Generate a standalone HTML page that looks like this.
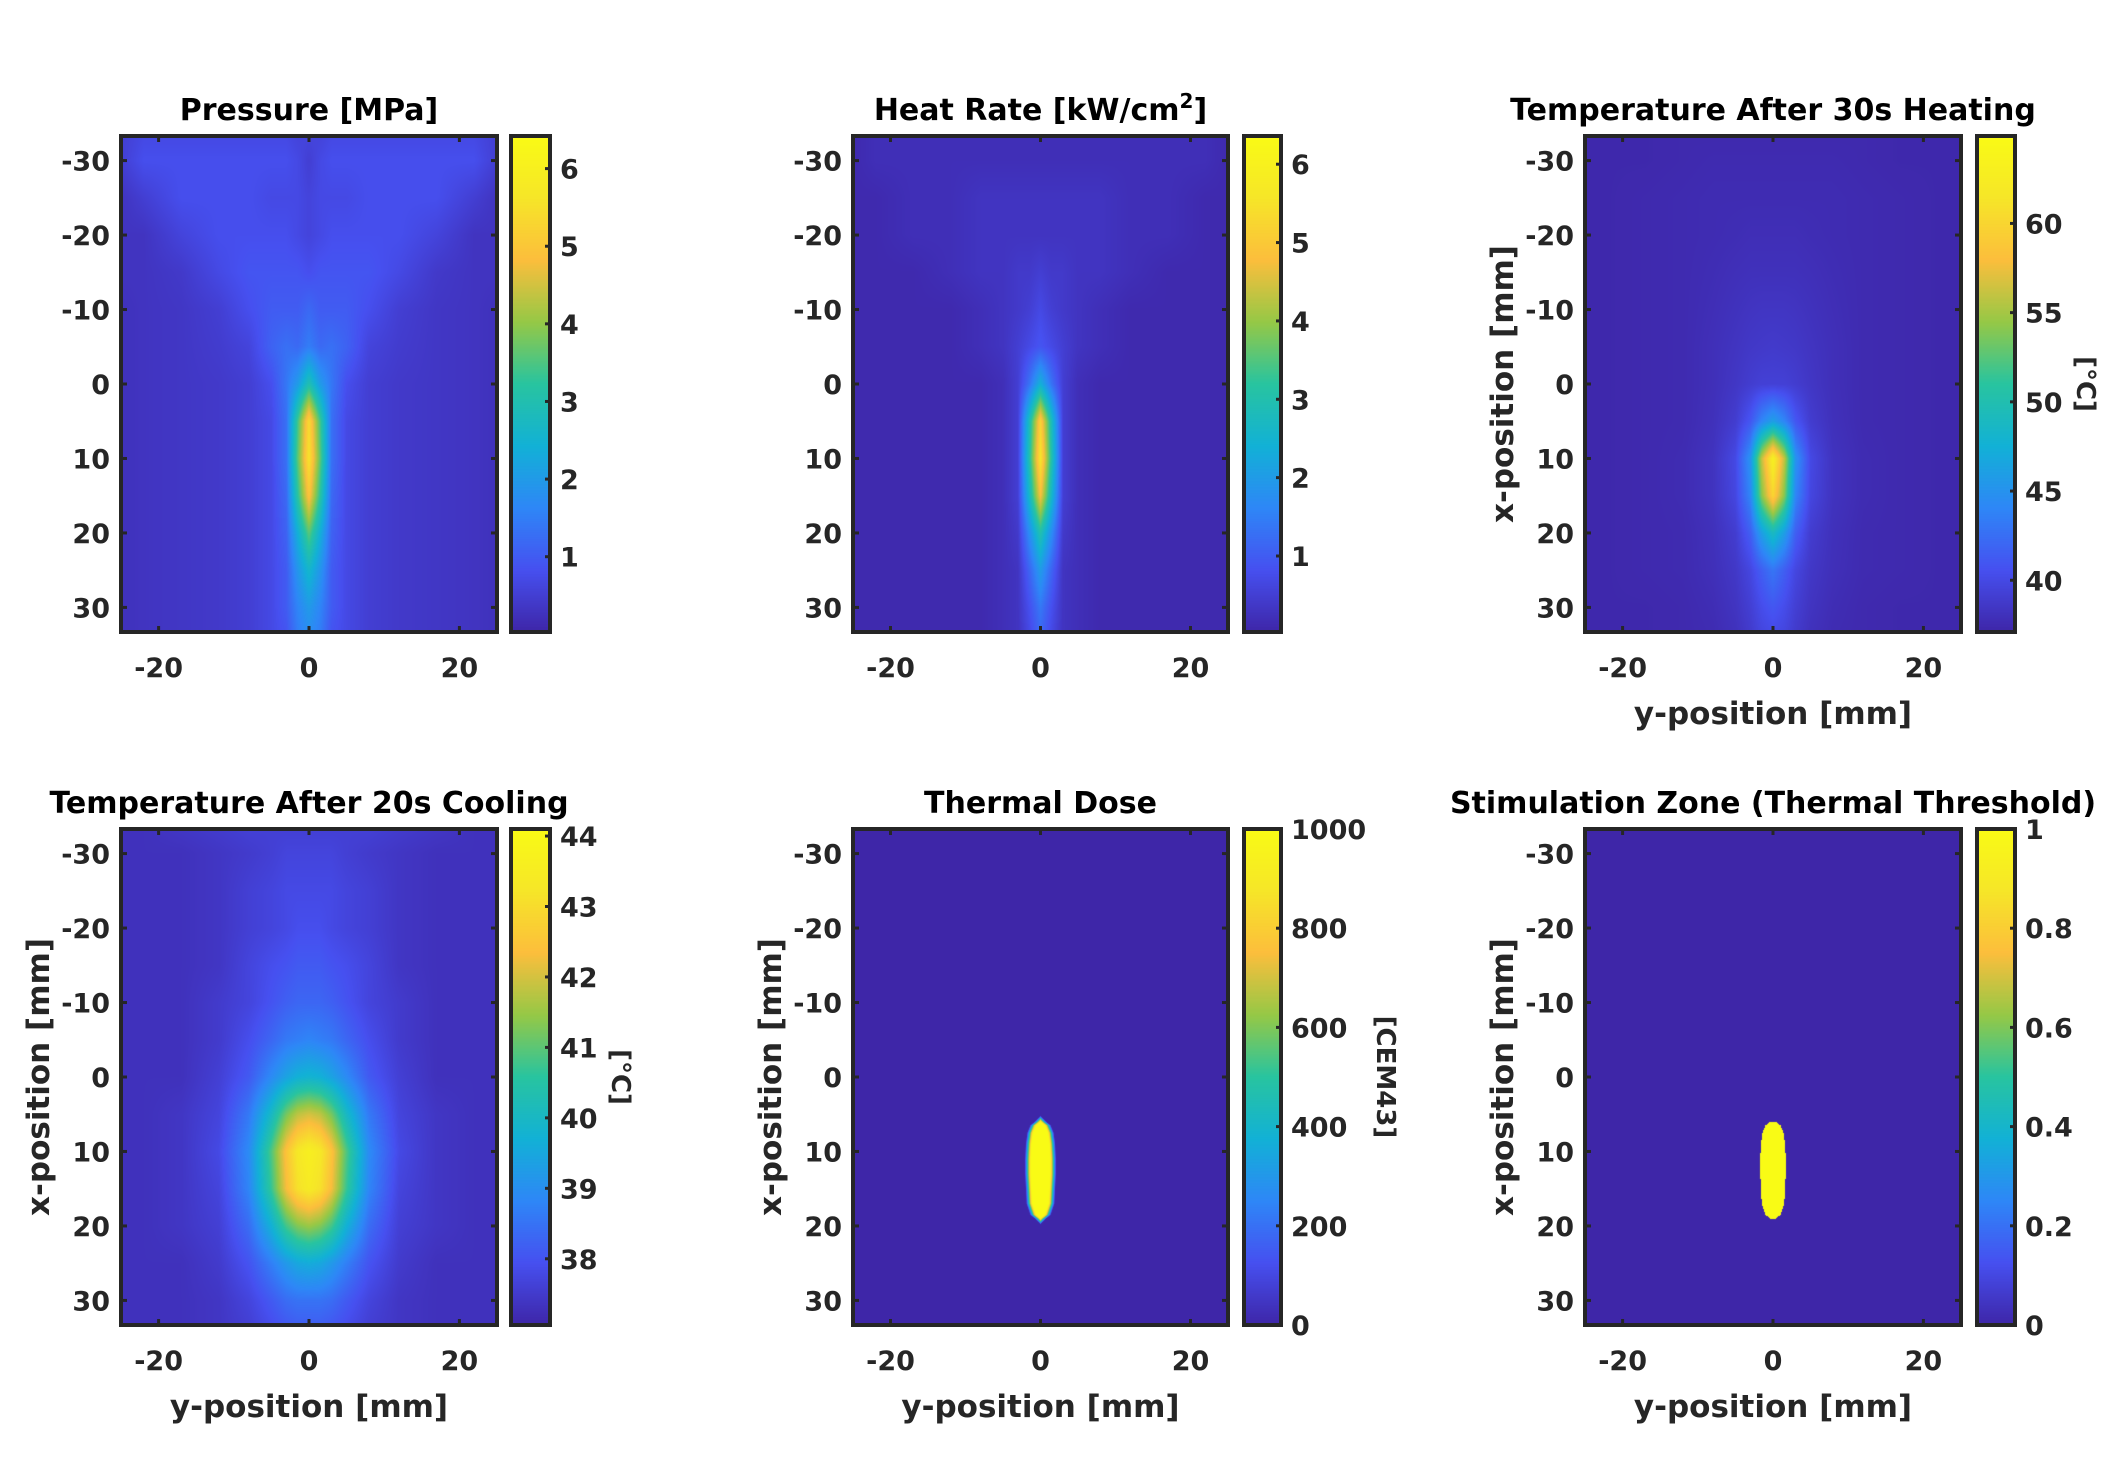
<!DOCTYPE html>
<html><head><meta charset="utf-8"><style>
html,body{margin:0;padding:0;background:#fff;}
#root{position:relative;width:2112px;height:1469px;overflow:hidden;background:#fff;}
canvas{position:absolute;}
svg{position:absolute;left:0;top:0;}
</style></head><body>
<div id="root">
<svg id="svg" width="2112" height="1469"></svg>
</div>
<script>
// ---- data ----
const rowsX = [-33,-30,-25,-20,-15,-10,-5,0,5,10,15,20,25,30,33];
const colsY = [0,1.5,3,5,8,12,17,22,25];
const pressureVals = [
[0.6,0.6,0.7,0.7,0.7,0.7,0.7,0.7,0.5],
[0.5,0.7,0.8,0.8,0.8,0.8,0.8,0.8,0.5],
[0.6,0.7,0.7,0.7,0.8,0.8,0.8,0.5,0.3],
[0.6,0.7,0.8,0.8,0.8,0.8,0.6,0.3,0.3],
[0.8,0.9,0.9,0.9,0.9,0.7,0.4,0.3,0.3],
[1.2,1.0,1.0,1.0,0.8,0.5,0.35,0.3,0.25],
[1.5,1.2,1.3,1.1,0.6,0.45,0.35,0.3,0.25],
[3.0,2.0,1.4,0.8,0.5,0.4,0.35,0.3,0.25],
[5.4,3.4,1.3,0.7,0.5,0.4,0.35,0.3,0.25],
[5.6,3.6,1.3,0.7,0.5,0.4,0.35,0.3,0.25],
[5.0,3.2,1.2,0.7,0.5,0.4,0.35,0.3,0.25],
[3.6,2.4,1.1,0.7,0.5,0.4,0.35,0.3,0.25],
[2.6,1.9,1.0,0.7,0.5,0.4,0.35,0.3,0.25],
[2.0,1.6,1.0,0.7,0.5,0.4,0.35,0.3,0.25],
[1.8,1.5,0.9,0.7,0.5,0.4,0.35,0.3,0.25]];
const heatVals = [
[0.2,0.2,0.2,0.2,0.2,0.2,0.2,0.2,0.1],
[0.2,0.2,0.2,0.2,0.2,0.2,0.2,0.2,0.1],
[0.3,0.3,0.3,0.3,0.3,0.2,0.2,0.1,0.1],
[0.3,0.3,0.3,0.3,0.3,0.2,0.2,0.1,0.1],
[0.5,0.4,0.4,0.3,0.3,0.2,0.1,0.1,0.1],
[0.7,0.5,0.4,0.3,0.2,0.1,0.1,0.1,0.1],
[0.9,0.7,0.5,0.3,0.2,0.1,0.1,0.1,0.1],
[2.4,1.3,0.5,0.2,0.1,0.1,0.1,0.1,0.1],
[5.2,2.8,0.5,0.2,0.1,0.1,0.1,0.1,0.1],
[5.6,3.0,0.5,0.2,0.1,0.1,0.1,0.1,0.1],
[4.8,2.6,0.5,0.2,0.1,0.1,0.1,0.1,0.1],
[3.0,1.7,0.4,0.2,0.1,0.1,0.1,0.1,0.1],
[2.0,1.1,0.3,0.2,0.1,0.1,0.1,0.1,0.1],
[1.4,0.8,0.3,0.2,0.1,0.1,0.1,0.1,0.1],
[1.2,0.7,0.3,0.2,0.1,0.1,0.1,0.1,0.1]];
const tempHeatVals = [
[37.4,37.4,37.4,37.4,37.4,37.4,37.3,37.3,37.3],
[37.5,37.5,37.5,37.5,37.5,37.4,37.3,37.3,37.3],
[37.6,37.6,37.6,37.6,37.6,37.5,37.4,37.3,37.3],
[37.8,37.8,37.8,37.7,37.6,37.5,37.4,37.3,37.3],
[38.0,38.0,38.0,37.9,37.7,37.5,37.4,37.3,37.3],
[38.4,38.4,38.3,38.1,37.8,37.5,37.4,37.3,37.3],
[38.8,38.7,38.6,38.3,37.9,37.5,37.4,37.3,37.3],
[39.3,39.3,39.0,38.5,37.9,37.5,37.4,37.3,37.3],
[46.0,44.0,41.0,39.0,38.0,37.5,37.4,37.3,37.3],
[63.0,56.0,45.0,40.0,38.2,37.6,37.4,37.3,37.3],
[60.0,54.0,44.0,39.8,38.2,37.6,37.4,37.3,37.3],
[49.0,46.0,41.5,39.0,38.0,37.5,37.4,37.3,37.3],
[43.0,41.5,39.8,38.6,37.9,37.5,37.4,37.3,37.3],
[41.0,40.3,39.2,38.3,37.7,37.4,37.3,37.3,37.3],
[40.2,39.8,38.9,38.1,37.6,37.4,37.3,37.3,37.3]];
const tempCoolVals = [
[37.6,37.6,37.6,37.6,37.6,37.5,37.4,37.3,37.3],
[37.7,37.7,37.7,37.6,37.5,37.4,37.3,37.3,37.3],
[37.8,37.8,37.8,37.7,37.6,37.4,37.3,37.3,37.3],
[37.9,37.9,37.8,37.7,37.6,37.4,37.3,37.3,37.3],
[38.1,38.1,38.0,37.9,37.7,37.4,37.3,37.3,37.3],
[38.3,38.3,38.2,38.0,37.7,37.5,37.3,37.3,37.3],
[38.8,38.7,38.6,38.3,37.9,37.5,37.3,37.3,37.3],
[39.8,39.7,39.4,38.9,38.1,37.6,37.3,37.3,37.3],
[42.0,41.8,41.2,40.0,38.6,37.7,37.4,37.3,37.3],
[43.6,43.3,42.5,40.9,38.9,37.8,37.4,37.3,37.3],
[43.4,43.1,42.3,40.7,38.8,37.7,37.4,37.3,37.3],
[41.5,41.3,40.8,39.7,38.4,37.6,37.4,37.3,37.3],
[39.6,39.5,39.2,38.7,38.0,37.5,37.3,37.3,37.3],
[38.5,38.5,38.4,38.1,37.7,37.4,37.3,37.3,37.3],
[38.2,38.2,38.1,37.9,37.6,37.4,37.3,37.3,37.3]];
// lesion / zone: half-width (mm) along x
const zoneX = [6,6.5,7.5,9,11,13,15,17,18.5,19];
const zoneHalfW = [0.4,1.0,1.4,1.6,1.7,1.7,1.6,1.5,1.0,0.4];
const doseInside = 1000, doseOutside = 0;
const xTicks = [-20,0,20];
const yTicks = [-30,-20,-10,0,10,20,30];
const cbTicks1 = [1,2,3,4,5,6];
const cbTicks2 = [1,2,3,4,5,6];
const cbTicks3 = [40,45,50,55,60];
const cbTicks4 = [38,39,40,41,42,43,44];
const cbTicks5 = [0,200,400,600,800,1000];
const cbTicks6 = [0,0.2,0.4,0.6,0.8,1];

// ---- colormap ----
const parula = [[0,[62,38,168]],[0.125,[70,80,240]],[0.25,[46,135,247]],[0.375,[18,177,214]],
[0.5,[40,196,160]],[0.625,[150,200,70]],[0.75,[252,190,60]],[0.875,[246,230,40]],[1,[249,251,21]]];
function cmap(t){t=Math.max(0,Math.min(1,t));for(let i=1;i<parula.length;i++){if(t<=parula[i][0]){const a=parula[i-1],b=parula[i];const f=(t-a[0])/(b[0]-a[0]);return [0,1,2].map(k=>Math.round(a[1][k]+f*(b[1][k]-a[1][k])));}}return parula[parula.length-1][1];}
function interp1(arr,v){if(v<=arr[0])return [0,0];for(let i=1;i<arr.length;i++){if(v<=arr[i])return [i-1,(v-arr[i-1])/(arr[i]-arr[i-1])];}return [arr.length-2,1];}
function gridVal(vals,x,y){const [i,fi]=interp1(rowsX,x);const [j,fj]=interp1(colsY,Math.abs(y));
const a=vals[i][j],b=vals[i][j+1],c=vals[i+1][j],d=vals[i+1][j+1];return (a*(1-fj)+b*fj)*(1-fi)+(c*(1-fj)+d*fj)*fi;}
function zoneVal(x,y,soft){if(x<zoneX[0]-soft||x>zoneX[zoneX.length-1]+soft)return 0;
const xc=Math.max(zoneX[0],Math.min(zoneX[zoneX.length-1],x));const [i,f]=interp1(zoneX,xc);const hw=zoneHalfW[i]*(1-f)+zoneHalfW[i+1]*f;
const dx=x<zoneX[0]?zoneX[0]-x:(x>zoneX[zoneX.length-1]?x-zoneX[zoneX.length-1]:0);
const d=Math.abs(y)-hw+dx; if(soft<=0)return d<=0?1:0; return Math.max(0,Math.min(1,0.5-d/soft));}

// ---- layout ----
const cols=[{l:121,r:497,cl:511,cr:550},{l:853,r:1228,cl:1244,cr:1281},{l:1585,r:1961,cl:1977,cr:2015}];
const rows=[{t:136,b:632},{t:829,b:1325}];
const X0=-25,X1=25,Y0=-33.3,Y1=33.3;
const svg=document.getElementById('svg');const root=document.getElementById('root');
const NS='http://www.w3.org/2000/svg';
function el(tag,attrs,parent){const e=document.createElementNS(NS,tag);for(const k in attrs)e.setAttribute(k,attrs[k]);(parent||svg).appendChild(e);return e;}
const FONT='"DejaVu Sans", "Liberation Sans", Arial, sans-serif';

const panels=[
{title:'Pressure [MPa]',r:0,c:0,vmin:0.03,vmax:6.42,f:(x,y)=>gridVal(pressureVals,x,y),cb:cbTicks1,xl:false,yl:false,cbl:null,name:'pressure'},
{title:'Heat Rate [kW/cm2]',r:0,c:1,vmin:0.03,vmax:6.36,f:(x,y)=>gridVal(heatVals,x,y),cb:cbTicks2,xl:false,yl:false,cbl:null,name:'heat-rate'},
{title:'Temperature After 30s Heating',r:0,c:2,vmin:37.1,vmax:64.9,f:(x,y)=>gridVal(tempHeatVals,x,y),cb:cbTicks3,xl:true,yl:true,cbl:'[°C]',name:'temp-heating'},
{title:'Temperature After 20s Cooling',r:1,c:0,vmin:37.06,vmax:44.1,f:(x,y)=>gridVal(tempCoolVals,x,y),cb:cbTicks4,xl:true,yl:true,cbl:'[°C]',name:'temp-cooling'},
{title:'Thermal Dose',r:1,c:1,vmin:0,vmax:1000,f:(x,y)=>doseOutside+(doseInside-doseOutside)*zoneVal(x,y,0.8),cb:cbTicks5,xl:true,yl:true,cbl:'[CEM43]',name:'thermal-dose'},
{title:'Stimulation Zone (Thermal Threshold)',r:1,c:2,vmin:0,vmax:1,f:(x,y)=>zoneVal(x,y,0),cb:cbTicks6,xl:true,yl:true,cbl:null,name:'stimulation-zone'}];

panels.forEach(p=>{
 const C=cols[p.c],R=rows[p.r];const W=C.r-C.l,H=R.b-R.t;
 const sx=v=>C.l+(v-X0)/(X1-X0)*W, sy=v=>R.t+(v-Y0)/(Y1-Y0)*H;
 const cv=document.createElement('canvas');cv.width=W;cv.height=H;cv.style.left=C.l+'px';cv.style.top=R.t+'px';
 
 
 root.insertBefore(cv,svg);
 const ctx=cv.getContext('2d');const img=ctx.createImageData(W,H);
 for(let py=0;py<H;py++){const x=Y0+(py+0.5)/H*(Y1-Y0);for(let px=0;px<W;px++){const y=X0+(px+0.5)/W*(X1-X0);
  const c=cmap((p.f(x,y)-p.vmin)/(p.vmax-p.vmin));const k=(py*W+px)*4;img.data[k]=c[0];img.data[k+1]=c[1];img.data[k+2]=c[2];img.data[k+3]=255;}}
 ctx.putImageData(img,0,0);
 const CW=C.cr-C.cl;const cb=document.createElement('canvas');cb.width=CW;cb.height=H;cb.style.left=C.cl+'px';cb.style.top=R.t+'px';
 
 
 root.insertBefore(cb,svg);
 const bx=cb.getContext('2d');for(let py=0;py<H;py++){const c=cmap(1-(py+0.5)/H);bx.fillStyle=`rgb(${c[0]},${c[1]},${c[2]})`;bx.fillRect(0,py,CW,1);}
 const g=el('g',{});
 el('rect',{x:C.l,y:R.t,width:W,height:H,fill:'none',stroke:'#262626','stroke-width':4},g);
 el('rect',{x:C.cl,y:R.t,width:CW,height:H,fill:'none',stroke:'#262626','stroke-width':4},g);
 xTicks.forEach(t=>{const X=sx(t);
  el('line',{x1:X,x2:X,y1:R.t,y2:R.t+6,stroke:'#262626','stroke-width':3},g);
  el('line',{x1:X,x2:X,y1:R.b,y2:R.b-6,stroke:'#262626','stroke-width':3},g);
  const tx=el('text',{x:X,y:R.b+45,'text-anchor':'middle','font-family':FONT,'font-weight':'bold','font-size':27,fill:'#262626',},g);tx.textContent=t;});
 yTicks.forEach(t=>{const Y=sy(t);
  el('line',{x1:C.l,x2:C.l+6,y1:Y,y2:Y,stroke:'#262626','stroke-width':3},g);
  el('line',{x1:C.r,x2:C.r-6,y1:Y,y2:Y,stroke:'#262626','stroke-width':3},g);
  const tx=el('text',{x:C.l-11,y:Y+10,'text-anchor':'end','font-family':FONT,'font-weight':'bold','font-size':27,fill:'#262626',},g);tx.textContent=t;});
 p.cb.forEach(t=>{const Y=R.b-(t-p.vmin)/(p.vmax-p.vmin)*H;
  el('line',{x1:C.cr,x2:C.cr-5,y1:Y,y2:Y,stroke:'#262626','stroke-width':3},g);
  const tx=el('text',{x:C.cr+10,y:Y+10,'font-family':FONT,'font-weight':'bold','font-size':27,fill:'#262626',},g);tx.textContent=t;});
 const cx=(C.l+C.r)/2;
 const tt=el('text',{x:cx,y:R.t-16,'text-anchor':'middle','font-family':FONT,'font-weight':'bold','font-size':30,fill:'#000',},g);
 if(p.title.indexOf('cm2')>=0){tt.textContent='Heat Rate [kW/cm';const s=el('tspan',{dy:-12,'font-size':20},tt);s.textContent='2';const s2=el('tspan',{dy:12},tt);s2.textContent=']';}else tt.textContent=p.title;
 if(p.xl){const t=el('text',{x:cx,y:R.b+92,'text-anchor':'middle','font-family':FONT,'font-weight':'bold','font-size':31,fill:'#262626',},g);t.textContent='y-position [mm]';}
 if(p.yl){const yy=(R.t+R.b)/2,xx=C.l-72;const t=el('text',{x:xx,y:yy,'text-anchor':'middle','font-family':FONT,'font-weight':'bold','font-size':31,fill:'#262626',transform:`rotate(-90 ${xx} ${yy})`,},g);t.textContent='x-position [mm]';}
 if(p.cbl){const yy=(R.t+R.b)/2,xx=C.cr+(p.cbl.length>4?96:62);const t=el('text',{x:xx,y:yy,'text-anchor':'middle','font-family':FONT,'font-weight':'bold','font-size':26,fill:'#262626',transform:`rotate(90 ${xx} ${yy})`,},g);t.textContent=p.cbl;}
});
</script>
</body></html>
